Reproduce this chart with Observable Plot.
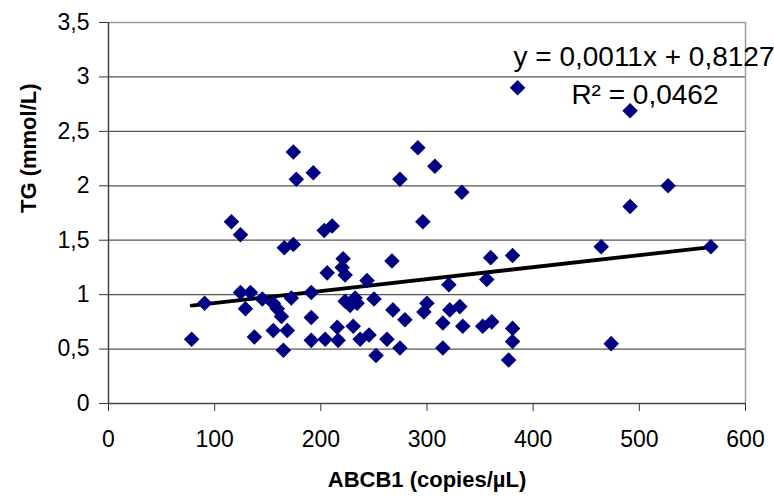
<!DOCTYPE html>
<html>
<head>
<meta charset="utf-8">
<script src="https://cdn.jsdelivr.net/npm/d3@7"></script>
<script src="https://cdn.jsdelivr.net/npm/@observablehq/plot@0.6"></script>
<style>
  html, body { margin: 0; padding: 0; background: #ffffff; }
  #chart { width: 774px; height: 501px; }
</style>
</head>
<body>
<div id="chart"></div>
<script>
// ABCB1 (copies/µL) values
const abcb1 = [
  78.3, 90.5, 115.8, 124.3, 124.3, 129.0, 133.7, 137.4, 144.9, 155.2,
  155.2, 159.0, 162.9, 164.7, 165.6, 168.4, 172.2, 174.1, 174.1, 176.9,
  191.0, 191.0, 192.9, 191.0, 203.2, 206.0, 204.1, 210.7, 215.4, 216.3,
  221.0, 220.1, 222.9, 222.9, 227.6, 232.3, 234.2, 230.5, 237.0, 243.5,
  245.4, 250.1, 252.0, 262.3, 267.0, 267.9, 274.5, 274.5, 279.2, 291.4,
  296.1, 297.1, 299.9, 307.4, 314.9, 314.9, 321.5, 320.6, 330.9, 332.8,
  333.7, 352.5, 356.3, 361.0, 360.0, 376.9, 380.6, 380.6, 380.6, 385.3,
  464.1, 473.5, 491.3, 491.3, 527.1, 567.4
];
// TG (mmol/L) values
const tg = [
  0.59, 0.92, 1.67, 1.55, 1.02, 0.87, 1.02, 0.61, 0.96, 0.92,
  0.67, 0.87, 0.80, 0.49, 1.43, 0.67, 0.97, 1.46, 2.31, 2.06,
  1.02, 0.79, 2.12, 0.58, 1.59, 1.20, 0.59, 1.63, 0.70, 0.58,
  1.33, 1.25, 1.18, 0.94, 0.90, 0.97, 0.92, 0.71, 0.59, 1.13,
  0.63, 0.96, 0.44, 0.59, 1.31, 0.86, 2.06, 0.51, 0.77, 2.35,
  1.67, 0.84, 0.92, 2.18, 0.51, 0.74, 0.86, 1.09, 0.89, 1.94,
  0.71, 0.71, 1.14, 0.75, 1.34, 0.40, 1.36, 0.69, 0.57, 2.90,
  1.44, 0.55, 1.81, 2.69, 2.00, 1.44
];
const trendSlope = 0.0011;
const trendIntercept = 0.8127;
const equationLabel = "y = 0,0011x + 0,8127";
const r2Label = "R² = 0,0462";
const xTicks = [0, 100, 200, 300, 400, 500, 600];
const yTicks = [0, 0.5, 1, 1.5, 2, 2.5, 3, 3.5];
const xTitle = "ABCB1 (copies/µL)";
const yTitle = "TG (mmol/L)";

const points = abcb1.map((x, i) => ({x, y: tg[i]}));
const [xMin, xMax] = d3.extent(abcb1);
const trend = [xMin, xMax].map(x => ({x, y: trendSlope * x + trendIntercept}));
const comma = d => String(d).replace(".", ",");
const grid = yTicks.filter(v => v > 0 && v < 3.5);

const chart = Plot.plot({
  width: 774,
  height: 501,
  marginLeft: 108,
  marginRight: 29,
  marginTop: 22,
  marginBottom: 98,
  style: {fontFamily: "'Liberation Sans', Arial, sans-serif", background: "#ffffff", color: "#000"},
  x: {domain: [0, 600]},
  y: {domain: [0, 3.5]},
  marks: [
    Plot.ruleY(grid, {stroke: "#555555", strokeWidth: 1.2}),
    Plot.ruleY([3.5], {stroke: "#9a9a9a", strokeWidth: 1.5}),
    Plot.ruleX([600], {stroke: "#9a9a9a", strokeWidth: 1.5}),
    Plot.axisX({ticks: xTicks, tickFormat: comma, tickSize: 8, tickPadding: 19, fontSize: 23, label: null, stroke: "#333", style: {letterSpacing: "0.8px"}}),
    Plot.axisY({ticks: yTicks, tickFormat: comma, tickSize: 9, tickPadding: 10, fontSize: 23, label: null, stroke: "#333", style: {letterSpacing: "0.8px"}}),
    Plot.ruleX([0], {stroke: "#444", strokeWidth: 1.5}),
    Plot.ruleY([0], {stroke: "#444", strokeWidth: 1.5}),
    Plot.text([xTitle], {frameAnchor: "bottom", dy: 83, fontWeight: "bold", fontSize: 22, fill: "#000", style: {letterSpacing: "0.6px"}}),
    Plot.text([yTitle], {frameAnchor: "left", dx: -80, rotate: -90, fontWeight: "bold", fontSize: 22, fill: "#000"}),
    Plot.line(trend, {x: "x", y: "y", stroke: "#000", strokeWidth: 3.8}),
    Plot.dot(points, {x: "x", y: "y", symbol: "diamond2", r: 7, fill: "#000080", stroke: "none"}),
    Plot.text([equationLabel], {frameAnchor: "top-right", lineAnchor: "middle", textAnchor: "end", dx: 29, dy: 35, fontSize: 28, fill: "#000", style: {letterSpacing: "2.3px"}}),
    Plot.text([r2Label], {frameAnchor: "top-right", lineAnchor: "middle", textAnchor: "end", dx: -27, dy: 73, fontSize: 28, fill: "#000", style: {letterSpacing: "2.3px"}})
  ]
});
document.getElementById("chart").appendChild(chart);
</script>
</body>
</html>
